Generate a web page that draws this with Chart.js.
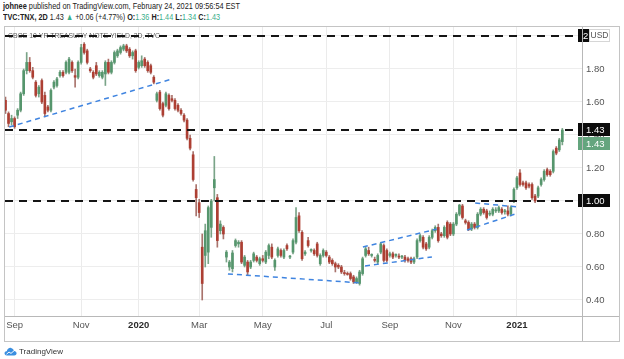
<!DOCTYPE html>
<html><head><meta charset="utf-8">
<script src="https://cdn.jsdelivr.net/npm/chart.js@4.4.1/dist/chart.umd.min.js"></script>
<style>
html,body{margin:0;padding:0;background:#fff;}
body{width:624px;height:359px;position:relative;overflow:hidden;font-family:"Liberation Sans",Arial,sans-serif;color:#222;}
.fit{position:absolute;white-space:nowrap;display:inline-block;transform-origin:0 0;font-size:9.5px;line-height:10px;}
#h1{left:3px;top:1px;}
#h2{left:3px;top:12px;}
.g{color:#3aae8a;}
#wrap{position:absolute;left:4px;top:26px;width:616px;height:316px;}
#frame{position:absolute;left:4px;top:26px;width:616px;height:316px;box-sizing:border-box;border:1px solid #c4c4c4;pointer-events:none;}
#foot{position:absolute;left:4px;top:345px;height:12px;display:flex;align-items:center;font-size:8px;color:#333;}
#foot svg{margin-right:2px;}
</style></head>
<body>
<div id="h1" class="fit" data-w="237"><b>johnee</b> published on TradingView.com, February 24, 2021 09:56:54 EST</div>
<div id="h2" class="fit" data-w="217"><b>TVC:TNX, 2D</b> 1.43 <span class="g">▲</span> +0.06 (+4.77%) <b>O:</b><span class="g">1.36</span> <b>H:</b><span class="g">1.44</span> <b>L:</b><span class="g">1.34</span> <b>C:</b><span class="g">1.43</span></div>
<div id="wrap"><canvas id="c"></canvas></div>
<div id="frame"></div>
<div id="foot"><svg width="13" height="9" viewBox="0 0 13 9"><path d="M3 8.5 C1 8.5 0.3 7 0.6 5.8 C0.9 4.6 2 4.1 2.8 4.3 C3.2 2 5 0.6 7 0.9 C8.8 1.2 9.8 2.6 10 3.9 C11.8 4 12.8 5.3 12.6 6.6 C12.4 7.8 11.4 8.5 10.3 8.5 Z" fill="#3b8fe0"/><path d="M2.5 7.2 L5 5 L7 6.4 L10.2 3.6" stroke="#fff" stroke-width="1" fill="none"/></svg><span>TradingView</span></div>
<script>
// ---- data (2-day candles, TVC:TNX) ----
const opens  = [1.61,1.53,1.48,1.50,1.52,1.55,1.65,1.79,1.84,1.79,1.72,1.65,1.73,1.64,1.57,1.55,1.69,1.70,1.76,1.78,1.78,1.78,1.84,1.76,1.75,1.84,1.95,1.91,1.80,1.78,
1.82,1.76,1.75,1.77,1.84,1.78,1.84,1.88,1.90,1.92,1.94,1.92,1.88,1.91,1.81,1.82,1.86,1.84,1.82,1.75,1.61,1.66,1.59,1.58,1.64,1.62,1.61,1.58,1.55,1.52,
1.49,1.38,1.28,1.07,0.99,0.72,0.67,0.69,0.84,1.08,1.02,0.82,0.84,0.66,0.60,0.59,0.73,0.74,0.75,0.61,0.63,0.60,0.64,0.66,0.62,0.65,0.63,0.67,0.72,0.60,
0.67,0.70,0.66,0.73,0.66,0.69,0.75,0.91,0.81,0.68,0.76,0.70,0.70,0.74,0.62,0.67,0.69,0.66,0.64,0.62,0.61,0.60,0.565,0.56,0.56,0.54,0.51,0.50,0.56,0.67,
0.70,0.67,0.645,0.63,0.69,0.73,0.70,0.67,0.68,0.67,0.665,0.66,0.66,0.65,0.65,0.63,0.66,0.76,0.78,0.74,0.72,0.78,0.82,0.84,0.80,0.79,0.87,0.86,0.80,0.86,
0.92,0.97,0.88,0.87,0.83,0.86,0.84,0.92,0.95,0.94,0.92,0.92,0.94,0.94,0.95,0.935,0.94,0.92,1.00,1.08,1.17,1.11,1.11,1.10,1.10,1.03,1.03,1.10,1.13,1.19,
1.18,1.18,1.32,1.31,1.36];
const highs  = [1.63,1.54,1.52,1.51,1.56,1.66,1.80,1.90,1.87,1.81,1.73,1.70,1.74,1.66,1.58,1.68,1.73,1.75,1.79,1.79,1.85,1.87,1.85,1.80,1.85,1.95,1.96,1.92,1.81,1.79,
1.84,1.79,1.79,1.85,1.86,1.85,1.91,1.92,1.94,1.95,1.95,1.93,1.91,1.92,1.85,1.88,1.87,1.85,1.83,1.76,1.66,1.67,1.60,1.66,1.65,1.64,1.62,1.59,1.56,1.53,
1.50,1.40,1.30,1.10,1.01,0.80,0.86,0.97,1.01,1.27,1.04,0.88,0.85,0.70,0.64,0.70,0.77,0.76,0.76,0.67,0.64,0.64,0.69,0.67,0.66,0.67,0.70,0.74,0.74,0.65,
0.72,0.71,0.71,0.74,0.67,0.77,0.96,0.93,0.82,0.70,0.78,0.71,0.71,0.75,0.68,0.71,0.70,0.67,0.65,0.63,0.62,0.61,0.58,0.57,0.57,0.55,0.54,0.58,0.66,0.72,
0.72,0.68,0.66,0.68,0.75,0.74,0.71,0.69,0.69,0.68,0.68,0.67,0.67,0.66,0.66,0.66,0.77,0.80,0.79,0.75,0.79,0.83,0.85,0.86,0.81,0.85,0.88,0.87,0.87,0.93,
0.98,0.98,0.89,0.88,0.87,0.87,0.93,0.96,0.96,0.95,0.94,0.96,0.96,0.97,0.96,0.95,0.97,0.97,1.08,1.15,1.19,1.12,1.12,1.11,1.11,1.04,1.09,1.14,1.19,1.20,
1.19,1.31,1.33,1.38,1.44];
const lows   = [1.53,1.45,1.46,1.44,1.50,1.54,1.64,1.77,1.78,1.74,1.63,1.63,1.59,1.51,1.54,1.54,1.68,1.69,1.75,1.75,1.77,1.77,1.78,1.69,1.74,1.83,1.89,1.83,1.78,1.74,
1.76,1.75,1.74,1.70,1.77,1.77,1.83,1.87,1.89,1.91,1.90,1.87,1.86,1.78,1.80,1.81,1.81,1.78,1.77,1.71,1.60,1.55,1.51,1.57,1.55,1.60,1.55,1.54,1.52,1.48,
1.37,1.31,1.12,0.91,0.90,0.40,0.60,0.62,0.78,1.00,0.72,0.80,0.77,0.63,0.58,0.57,0.72,0.72,0.62,0.60,0.55,0.59,0.63,0.63,0.61,0.63,0.62,0.65,0.65,0.58,
0.66,0.66,0.65,0.70,0.65,0.68,0.74,0.81,0.64,0.67,0.72,0.69,0.67,0.66,0.61,0.66,0.66,0.62,0.61,0.57,0.59,0.56,0.55,0.55,0.52,0.50,0.50,0.49,0.55,0.66,
0.67,0.66,0.63,0.62,0.68,0.63,0.63,0.66,0.65,0.66,0.65,0.65,0.63,0.63,0.62,0.62,0.65,0.75,0.71,0.70,0.71,0.77,0.81,0.75,0.78,0.78,0.77,0.79,0.79,0.85,
0.91,0.89,0.86,0.82,0.82,0.83,0.83,0.91,0.92,0.89,0.91,0.91,0.93,0.93,0.92,0.92,0.91,0.91,0.99,1.07,1.09,1.09,1.07,1.08,1.01,0.99,1.02,1.09,1.12,1.15,
1.15,1.17,1.28,1.30,1.34];
const closes = [1.55,1.47,1.50,1.45,1.55,1.65,1.79,1.84,1.79,1.75,1.64,1.69,1.60,1.53,1.55,1.67,1.72,1.74,1.78,1.76,1.84,1.86,1.79,1.75,1.84,1.93,1.90,1.84,1.79,1.75,
1.77,1.78,1.78,1.84,1.78,1.84,1.90,1.91,1.93,1.94,1.91,1.88,1.90,1.79,1.84,1.85,1.82,1.79,1.78,1.72,1.65,1.56,1.52,1.65,1.56,1.61,1.56,1.55,1.53,1.49,
1.38,1.32,1.13,1.02,0.93,0.50,0.82,0.96,1.00,1.13,0.76,0.86,0.80,0.69,0.63,0.685,0.76,0.75,0.63,0.66,0.57,0.63,0.68,0.64,0.65,0.64,0.69,0.73,0.66,0.64,
0.71,0.67,0.70,0.71,0.665,0.76,0.90,0.82,0.65,0.69,0.73,0.705,0.68,0.67,0.67,0.70,0.67,0.63,0.62,0.60,0.60,0.57,0.56,0.555,0.53,0.51,0.53,0.57,0.65,0.71,
0.68,0.67,0.64,0.67,0.74,0.64,0.64,0.68,0.66,0.67,0.66,0.665,0.64,0.64,0.63,0.65,0.76,0.79,0.72,0.71,0.78,0.82,0.84,0.76,0.79,0.84,0.78,0.80,0.86,0.92,
0.975,0.90,0.87,0.83,0.86,0.84,0.92,0.95,0.93,0.90,0.925,0.95,0.945,0.96,0.93,0.94,0.92,0.96,1.07,1.14,1.10,1.10,1.08,1.09,1.02,1.00,1.08,1.13,1.18,1.16,
1.16,1.30,1.29,1.37,1.43];
const tickIdx    = [3, 25, 44, 64, 85, 106, 127, 148, 169];
const tickLabels = ['Sep','Nov','2020','Mar','May','Jul','Sep','Nov','2021'];
const yTicks     = [0.4, 0.6, 0.8, 1.0, 1.2, 1.4, 1.6, 1.8, 2.0];
const levelLines = [2.00, 1.43, 1.00];
const lastPrice  = 1.43;
const trendX0 = [1.2, 73.5, 118.1, 118.8, 155.2, 152.5];
const trendY0 = [1.448, 0.558, 0.721, 0.606, 0.988, 0.824];
const trendX1 = [55.0, 117.8, 142.5, 140.9, 169.4, 169.4];
const trendY1 = [1.739, 0.503, 0.830, 0.661, 0.964, 0.927];
const legendText = 'CBOE 10 YR TREASURY NOTE YIELD, 2D, TVC';

document.querySelectorAll('.fit').forEach(el => {
  const w = el.getBoundingClientRect().width;
  el.style.transform = 'scaleX(' + (parseFloat(el.dataset.w) / w) + ')';
});

const GREEN = '#56966d', RED = '#ad3f33', GWICK = '#7aa488', RWICK = '#a9736c';
const up = closes.map((c, i) => c >= opens[i]);
const isYear = ctx => !!(ctx.tick && /^\d{4}$/.test(ctx.tick.label));

Chart.defaults.font.family = '"Liberation Sans", Arial, sans-serif';

const datasets = [
  { type: 'bar', label: 'body', data: closes.map((c, i) => ({ x: i, y: [opens[i], c] })),
    backgroundColor: up.map(u => u ? GREEN : RED), barThickness: 2, minBarLength: 1, grouped: false, order: 1 },
  { type: 'bar', label: 'wick', data: closes.map((c, i) => ({ x: i, y: [lows[i], highs[i]] })),
    backgroundColor: up.map(u => u ? GWICK : RWICK), barThickness: 1, grouped: false, order: 2 }
];
trendX0.forEach((x0, k) => {
  datasets.push({ type: 'line', label: 't' + k,
    data: [{ x: x0, y: trendY0[k] }, { x: trendX1[k], y: trendY1[k] }],
    borderColor: '#3f84e0', borderWidth: 1.5, borderDash: [5, 4], pointRadius: 0, order: 0 });
});

function box(ctx, x, y, w, h, bg, txt, fg) {
  ctx.fillStyle = bg; ctx.fillRect(x, y, w, h);
  ctx.fillStyle = fg; ctx.textBaseline = 'middle'; ctx.textAlign = 'left';
  ctx.fillText(txt, x + 8, y + h / 2 + 0.5);
}

const tv = {
  id: 'tv',
  beforeDatasetsDraw(chart) {
    const { ctx, chartArea: a } = chart;
    ctx.save();
    ctx.font = '7.5px "Liberation Sans"';
    ctx.fillStyle = '#5c5c5c'; ctx.textBaseline = 'middle';
    const w = ctx.measureText(legendText).width;
    ctx.translate(a.left + 4, 10); ctx.scale(152 / w, 1);
    ctx.fillText(legendText, 0, 0);
    ctx.restore();
  },
  afterDatasetsDraw(chart) {
    const { ctx, chartArea: a, scales: { y } } = chart;
    ctx.save();
    ctx.strokeStyle = '#151515'; ctx.lineWidth = 2; ctx.setLineDash([8, 6]);
    levelLines.forEach(v => {
      const py = Math.round(y.getPixelForValue(v));
      ctx.beginPath(); ctx.moveTo(a.left + 1, py); ctx.lineTo(a.right, py); ctx.stroke();
    });
    ctx.restore();
  },
  afterDraw(chart) {
    const { ctx, chartArea: a, scales: { y }, width, height } = chart;
    ctx.save();
    ctx.font = '9.5px "Liberation Sans"';
    const bx = a.right - 4, bw = 32, bh = 13;
    const p143 = y.getPixelForValue(lastPrice);
    box(ctx, bx, Math.round(p143 - 7), bw, bh, '#0c0c0c', lastPrice.toFixed(2), '#fff');
    box(ctx, bx, Math.round(p143 + 7), bw, bh, '#64a57e', closes[closes.length - 1].toFixed(2), '#fff');
    const p100 = y.getPixelForValue(levelLines[2]);
    box(ctx, bx, Math.round(p100 - 6.5), bw, bh, '#0c0c0c', levelLines[2].toFixed(2), '#fff');
    const p200 = y.getPixelForValue(levelLines[0]);
    ctx.fillStyle = '#0c0c0c'; ctx.fillRect(bx, Math.round(p200 - 6.5), 12, bh);
    ctx.fillStyle = '#fff'; ctx.textBaseline = 'middle'; ctx.fillText(levelLines[0].toFixed(2), bx + 5, p200 + 0.5);
    const ux = bx + 11, uy = Math.round(p200 - 6.5), uw = 21;
    ctx.fillStyle = '#fff'; ctx.fillRect(ux, uy, uw, bh);
    ctx.strokeStyle = '#d6d6d6'; ctx.lineWidth = 1; ctx.strokeRect(ux + 0.5, uy + 0.5, uw - 1, bh - 1);
    ctx.fillStyle = '#555'; ctx.font = '8.5px "Liberation Sans"'; ctx.textAlign = 'center';
    ctx.fillText('USD', ux + uw / 2, uy + bh / 2 + 0.5);
    ctx.strokeStyle = '#b8b8b8'; ctx.lineWidth = 1;
    ctx.beginPath(); ctx.moveTo(a.right + 0.5, 0); ctx.lineTo(a.right + 0.5, height); ctx.stroke();
    ctx.beginPath(); ctx.moveTo(0, a.bottom + 0.5); ctx.lineTo(width, a.bottom + 0.5); ctx.stroke();
    ctx.restore();
  }
};

const noPad = s => { s.paddingTop = 0; s.paddingBottom = 0; s.paddingLeft = 0; s.paddingRight = 0; };

new Chart(document.getElementById('c'), {
  type: 'bar',
  data: { datasets },
  options: {
    responsive: true, maintainAspectRatio: false, animation: false,
    layout: { padding: 0, autoPadding: false },
    plugins: { legend: { display: false }, tooltip: { enabled: false } },
    scales: {
      x: {
        type: 'linear', min: -0.5, max: 190.5, offset: false,
        afterBuildTicks: s => { s.ticks = tickIdx.map(v => ({ value: v })); },
        afterFit: s => { s.height = 26; noPad(s); },
        grid: { color: '#ebebeb', drawTicks: false, offset: false },
        border: { display: false },
        ticks: {
          autoSkip: false, maxRotation: 0, padding: 4,
          color: ctx => isYear(ctx) ? '#2a2a2a' : '#555',
          font: ctx => ({ size: 9.5, weight: isYear(ctx) ? 'bold' : 'normal' }),
          callback: v => tickLabels[tickIdx.indexOf(v)]
        }
      },
      y: {
        type: 'linear', position: 'right', min: 0.303, max: 2.0606,
        afterBuildTicks: s => { s.ticks = yTicks.map(v => ({ value: v })); },
        afterFit: s => { s.width = 38; noPad(s); },
        grid: { color: '#ededed', drawTicks: false },
        border: { display: false },
        ticks: { padding: 4, color: '#555', font: { size: 9.5 }, callback: v => v.toFixed(2) }
      }
    }
  },
  plugins: [tv]
});
</script>
</body></html>
